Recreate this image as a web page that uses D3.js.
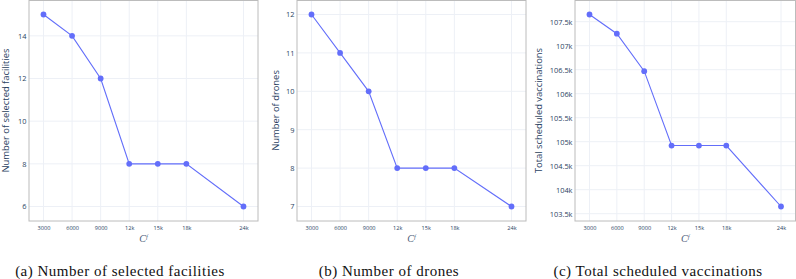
<!DOCTYPE html>
<html>
<head>
<meta charset="utf-8">
<script src="https://cdn.jsdelivr.net/npm/d3@7"></script>
<style>
  body { margin: 0; background: #fff; }
  svg { display: block; }
</style>
</head>
<body>
<div id="chart"></div>
<script>
// data
const costValues = [3000, 6000, 9000, 12000, 15000, 18000, 24000];
const costTickLabels = ["3000", "6000", "9000", "12k", "15k", "18k", "24k"];

const facilities = [15, 14, 12, 8, 8, 8, 6];
const drones = [12, 11, 10, 8, 8, 8, 7];
const vaccinations = [107650, 107250, 106470, 104920, 104920, 104920, 103650];

const facilityTicks = [6, 8, 10, 12, 14];
const droneTicks = [7, 8, 9, 10, 11, 12];
const vaccinationTicks = [103500, 104000, 104500, 105000, 105500, 106000, 106500, 107000, 107500];

const captions = ["(a) Number of selected facilities", "(b) Number of drones", "(c) Total scheduled vaccinations"];
const yTitles = ["Number of selected facilities", "Number of drones", "Total scheduled vaccinations"];

const theme = {
    line: "#636efa",
    text: "#2a3f5f",
    grid: "#edf0f6",
    frame: "#bcbcbc",
    font: "'Open Sans', sans-serif",
    serif: "'Liberation Serif', 'DejaVu Serif', serif"
};

const W = 796, H = 279;
const plotTop = 0, plotBottom = 221, pad = 14.5;

const svg = d3.select("#chart").append("svg")
    .attr("width", W)
    .attr("height", H);

const kFormat = d => {
    const v = d / 1000;
    return (Number.isInteger(v) ? v : v.toFixed(1)) + "k";
};

const panels = [
    { left: 29, right: 258, values: facilities, ticks: facilityTicks, fmt: d => d, titleX: 5, capX: 120 },
    { left: 297, right: 526, values: drones, ticks: droneTicks, fmt: d => d, titleX: 275, capX: 389 },
    { left: 575, right: 795.5, values: vaccinations, ticks: vaccinationTicks, fmt: kFormat, titleX: 538, capX: 658 }
];

panels.forEach((p, i) => {
    const g = svg.append("g");

    const x = d3.scaleLinear()
        .domain([d3.min(costValues), d3.max(costValues)])
        .range([p.left + pad, p.right - pad]);

    const y = d3.scaleLinear()
        .domain(d3.extent(p.values))
        .range([plotBottom - pad, plotTop + pad]);

    // grid
    g.append("g")
        .selectAll("line")
        .data(costValues)
        .join("line")
        .attr("x1", d => x(d)).attr("x2", d => x(d))
        .attr("y1", plotTop).attr("y2", plotBottom)
        .style("stroke", theme.grid)
        .style("stroke-width", 1);

    g.append("g")
        .selectAll("line")
        .data(p.ticks)
        .join("line")
        .attr("x1", p.left).attr("x2", p.right)
        .attr("y1", d => y(d)).attr("y2", d => y(d))
        .style("stroke", theme.grid)
        .style("stroke-width", 1);

    // frame
    g.append("rect")
        .attr("x", p.left)
        .attr("y", plotTop + 0.5)
        .attr("width", p.right - p.left)
        .attr("height", plotBottom - plotTop - 0.5)
        .style("fill", "none")
        .style("stroke", theme.frame)
        .style("stroke-width", 1);

    // axes (labels only, lines come from the frame)
    const xAxis = g.append("g")
        .attr("transform", `translate(0,${plotBottom})`)
        .call(d3.axisBottom(x).tickValues(costValues).tickFormat((d, j) => costTickLabels[j]).tickSize(0).tickPadding(5));
    xAxis.select(".domain").remove();
    xAxis.selectAll("text")
        .style("font-family", theme.font)
        .style("font-size", "5.6px")
        .style("fill", theme.text);

    const yAxis = g.append("g")
        .attr("transform", `translate(${p.left},0)`)
        .call(d3.axisLeft(y).tickValues(p.ticks).tickFormat(p.fmt).tickSize(0).tickPadding(2.5));
    yAxis.select(".domain").remove();
    yAxis.selectAll("text")
        .style("font-family", theme.font)
        .style("font-size", "7.4px")
        .style("fill", theme.text);

    // line + markers
    const pts = costValues.map((c, j) => [c, p.values[j]]);
    g.append("path")
        .datum(pts)
        .attr("d", d3.line().x(d => x(d[0])).y(d => y(d[1])))
        .style("fill", "none")
        .style("stroke", theme.line)
        .style("stroke-width", 1.1);

    g.append("g")
        .selectAll("circle")
        .data(pts)
        .join("circle")
        .attr("cx", d => x(d[0]))
        .attr("cy", d => y(d[1]))
        .attr("r", 2.9)
        .style("fill", theme.line);

    // y title
    g.append("text")
        .attr("transform", `translate(${p.titleX},${(plotTop + plotBottom) / 2}) rotate(-90)`)
        .attr("text-anchor", "middle")
        .attr("dominant-baseline", "central")
        .style("font-family", theme.font)
        .style("font-size", "9.4px")
        .style("fill", theme.text)
        .text(yTitles[i]);

    // x title C^f
    const xt = g.append("text")
        .attr("x", (p.left + p.right) / 2)
        .attr("y", 242)
        .attr("text-anchor", "middle")
        .style("font-family", theme.serif)
        .style("font-style", "italic")
        .style("font-size", "10px")
        .style("fill", "#4a5a78");
    xt.append("tspan").text("C");
    xt.append("tspan").attr("dy", -3.5).style("font-size", "6.5px").text("f");

    // caption
    svg.append("text")
        .attr("x", p.capX)
        .attr("y", 275.5)
        .attr("text-anchor", "middle")
        .style("font-family", theme.serif)
        .style("font-size", "15px")
        .style("letter-spacing", "0.5px")
        .style("fill", "#111")
        .text(captions[i]);
});
</script>
</body>
</html>
